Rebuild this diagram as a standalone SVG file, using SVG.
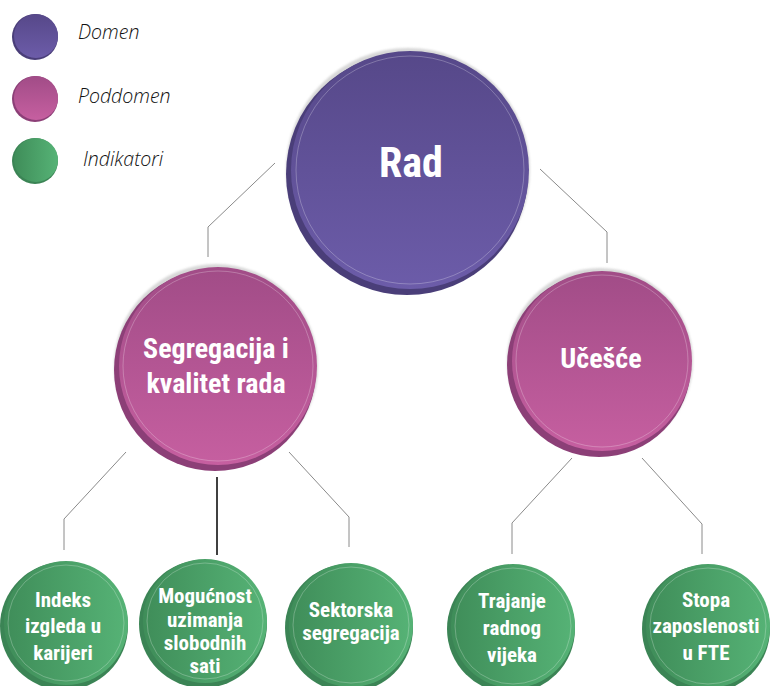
<svg xmlns="http://www.w3.org/2000/svg" width="776" height="686" viewBox="0 0 776 686">
<defs>
<linearGradient id="gP" x1="0" y1="0" x2="0" y2="1">
<stop offset="0" stop-color="#564889"/><stop offset="1" stop-color="#6c5ca9"/>
</linearGradient>
<linearGradient id="gK" x1="0" y1="0" x2="0" y2="1">
<stop offset="0" stop-color="#a14c87"/><stop offset="1" stop-color="#c65fa0"/>
</linearGradient>
<linearGradient id="gG" x1="0" y1="0" x2="1" y2="0">
<stop offset="0" stop-color="#3f8d59"/><stop offset="1" stop-color="#56b376"/>
</linearGradient>
<filter id="sh" x="-10%" y="-10%" width="120%" height="120%">
<feGaussianBlur stdDeviation="1.2"/>
</filter>
</defs>
<style>
.halo{fill:#bdbdbd;opacity:.6;filter:url(#sh)}
.rimP{fill:#4a3e79}
.rimK{fill:#8c3f77}
.rimG{fill:#3b8455}
.faceP{fill:url(#gP)}
.faceK{fill:url(#gK)}
.faceG{fill:url(#gG)}
.ring{fill:none;stroke:#ffffff;stroke-opacity:.25;stroke-width:1}
.t{font-family:"Liberation Sans Narrow","Roboto Condensed","Liberation Sans",sans-serif;font-weight:bold;fill:#ffffff;text-anchor:middle}
.lg{font-family:"Open Sans","Liberation Sans",sans-serif;font-style:italic;font-weight:300;font-size:19.5px;fill:#111111}
.cn{fill:none;stroke:#8a8a8a;stroke-width:1}
.cnb{fill:none;stroke:#000000;stroke-width:1.5}
</style>

<g id="legend">
<g id="legend-domen">
<circle class="rimP" cx="35" cy="37" r="23"/>
<circle class="faceP" cx="36" cy="36" r="22"/>
<text class="lg" x="78" y="39">Domen</text>
</g>
<g id="legend-poddomen">
<circle class="rimK" cx="35" cy="99" r="23"/>
<circle class="faceK" cx="36" cy="98" r="22"/>
<text class="lg" x="78" y="103">Poddomen</text>
</g>
<g id="legend-indikatori">
<circle class="rimG" cx="35" cy="161" r="23"/>
<circle class="faceG" cx="36" cy="160" r="22"/>
<text class="lg" x="83" y="166">Indikatori</text>
</g>
</g>

<g id="connectors">
<polyline class="cn" points="275,163 208,227 208,257"/>
<polyline class="cn" points="540,169 607,232 607,263"/>
<polyline class="cn" points="126,452 64,519 64,550"/>
<line class="cnb" x1="217" y1="477" x2="217" y2="555"/>
<polyline class="cn" points="289,452 349,517 349,547"/>
<polyline class="cn" points="572,458 512,523 512,554"/>
<polyline class="cn" points="642,458 702,524 702,554"/>
</g>

<g id="node-rad">
<circle class="halo" cx="408" cy="170" r="122"/>
<circle class="rimP" cx="407" cy="174" r="121"/>
<circle class="faceP" cx="410" cy="170" r="119"/>
<circle class="ring" cx="410" cy="170" r="114"/>
<text class="t" x="411" y="177" font-size="42">Rad</text>
</g>

<g id="node-segregacija">
<circle class="halo" cx="216" cy="366" r="102"/>
<circle class="rimK" cx="215" cy="370" r="101"/>
<circle class="faceK" cx="218" cy="366" r="99"/>
<circle class="ring" cx="218" cy="366" r="95"/>
<text class="t" x="216" y="358" font-size="28">Segregacija i</text>
<text class="t" x="216" y="393" font-size="28">kvalitet rada</text>
</g>

<g id="node-ucesce">
<circle class="halo" cx="600" cy="361" r="93"/>
<circle class="rimK" cx="599" cy="365" r="92"/>
<circle class="faceK" cx="602" cy="361" r="90"/>
<circle class="ring" cx="602" cy="361" r="86"/>
<text class="t" x="601" y="368" font-size="28">Učešće</text>
</g>

<g id="node-indeks">
<circle class="rimG" cx="64" cy="626" r="64"/>
<circle class="faceG" cx="66" cy="623" r="62"/>
<circle class="ring" cx="66" cy="623" r="58"/>
<text class="t" x="63" y="607" font-size="21">Indeks</text>
<text class="t" x="63" y="633" font-size="21">izgleda u</text>
<text class="t" x="63" y="660" font-size="21">karijeri</text>
</g>

<g id="node-mogucnost">
<circle class="rimG" cx="203" cy="624" r="64"/>
<circle class="faceG" cx="205" cy="621" r="62"/>
<circle class="ring" cx="205" cy="621" r="58"/>
<text class="t" x="205" y="603" font-size="21">Mogućnost</text>
<text class="t" x="205" y="627" font-size="21">uzimanja</text>
<text class="t" x="205" y="650" font-size="21">slobodnih</text>
<text class="t" x="205" y="673" font-size="21">sati</text>
</g>

<g id="node-sektorska">
<circle class="rimG" cx="349" cy="628" r="64"/>
<circle class="faceG" cx="351" cy="625" r="62"/>
<circle class="ring" cx="351" cy="625" r="58"/>
<text class="t" x="351" y="617" font-size="21">Sektorska</text>
<text class="t" x="351" y="640" font-size="21">segregacija</text>
</g>

<g id="node-trajanje">
<circle class="rimG" cx="511" cy="629" r="64"/>
<circle class="faceG" cx="513" cy="626" r="62"/>
<circle class="ring" cx="513" cy="626" r="58"/>
<text class="t" x="512" y="608" font-size="21">Trajanje</text>
<text class="t" x="512" y="635" font-size="21">radnog</text>
<text class="t" x="512" y="662" font-size="21">vijeka</text>
</g>

<g id="node-stopa">
<circle class="rimG" cx="706" cy="629" r="64"/>
<circle class="faceG" cx="708" cy="626" r="62"/>
<circle class="ring" cx="708" cy="626" r="58"/>
<text class="t" x="706" y="607" font-size="21">Stopa</text>
<text class="t" x="706" y="633" font-size="21">zaposlenosti</text>
<text class="t" x="706" y="660" font-size="21">u FTE</text>
</g>
</svg>
